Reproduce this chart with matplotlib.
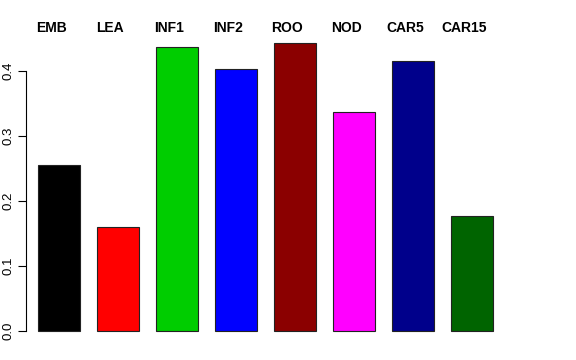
import numpy as np
import matplotlib
matplotlib.use('Agg')
import matplotlib.pyplot as plt

plt.rcParams['font.family'] = ['Liberation Sans', 'DejaVu Sans']

tissues = ['EMB', 'LEA', 'INF1', 'INF2', 'ROO', 'NOD', 'CAR5', 'CAR15']
values = [0.255, 0.160, 0.437, 0.403, 0.443, 0.337, 0.415, 0.177]
colors = ['#000000', '#FF0000', '#00CD00', '#0000FF', '#8B0000', '#FF00FF', '#00008B', '#006400']

fig = plt.figure(figsize=(5.76, 3.6), dpi=100)
ax = fig.add_axes([0, 0, 1, 1])

x = np.arange(len(tissues))
ax.bar(x, values, width=0.7, color=colors, edgecolor='#222222', linewidth=0.8)

# pixel mapping: bar centre 59 + 59*i, y=0 at 331, 0.1 per 65px
ax.set_xlim(-1, (576 - 59) / 59)
ax.set_ylim(-(360 - 331) / 650, 0.4 + 71 / 650)

for i, t in enumerate(tissues):
    ax.text(x[i] - 0.13, 0.4 + (71 - 28) / 650, t, ha='center', va='center',
            fontsize=10, fontweight='bold')

for s in ['top', 'right', 'bottom']:
    ax.spines[s].set_visible(False)
ax.spines['left'].set_position(('data', (26 - 59) / 59))
ax.spines['left'].set_bounds(0, 0.4)
ax.spines['left'].set_linewidth(0.8)
ax.set_xticks([])
ax.set_yticks([0.0, 0.1, 0.2, 0.3, 0.4])
ax.set_yticklabels(['0.0', '0.1', '0.2', '0.3', '0.4'])
ax.tick_params(axis='y', length=6, width=0.8, labelsize=9.5, pad=2.5, labelrotation=90)
for lab in ax.get_yticklabels():
    lab.set_va('center')

fig.savefig('out.png', dpi=100)
